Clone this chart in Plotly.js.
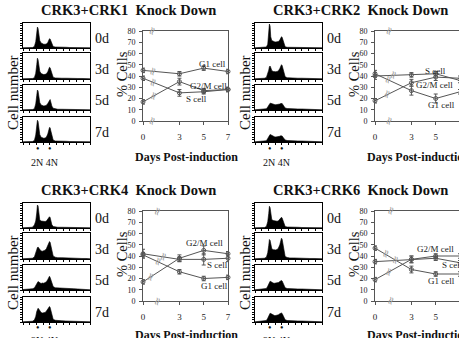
<!DOCTYPE html>
<html>
<head>
<meta charset="utf-8">
<script src="https://cdn.plot.ly/plotly-3.0.1.min.js"></script>
<style>
  html, body { margin: 0; padding: 0; background: #ffffff; }
  #chart { width: 459px; height: 338px; }
</style>
</head>
<body>
<div id="chart"></div>
<script>
// ---- time course: % of cells in each cycle phase ----
const days = [0, 3, 5, 7];
const panelTitles = ['CRK3+CRK1\u00a0\u00a0Knock Down', 'CRK3+CRK2\u00a0\u00a0Knock Down',
                     'CRK3+CRK4\u00a0\u00a0Knock Down', 'CRK3+CRK6\u00a0\u00a0Knock Down'];
const dayLabels = ['0d', '3d', '5d', '7d'];
const yTicks = [0, 10, 20, 30, 40, 50, 60, 70, 80];

const g1Crk1 = [45, 42, 47, 44];
const g2mCrk1 = [17, 35, 27, 28];
const sCrk1 = [38, 25, 26, 28];
const g1ErrCrk1 = [2, 2, 2, 2];
const g2mErrCrk1 = [2, 3, 2, 2];
const sErrCrk1 = [2, 3, 2, 2];

const g1Crk2 = [42, 27, 20, 26];
const g2mCrk2 = [18, 34, 39, 38];
const sCrk2 = [40, 41, 42, 36];
const g1ErrCrk2 = [3, 4, 4, 2];
const g2mErrCrk2 = [2, 3, 3, 2];
const sErrCrk2 = [3, 2, 2, 2];

const g1Crk4 = [41, 26, 20, 21];
const g2mCrk4 = [17, 38, 45, 42];
const sCrk4 = [42, 37, 37, 38];
const g1ErrCrk4 = [2, 2, 2, 2];
const g2mErrCrk4 = [2, 3, 4, 2];
const sErrCrk4 = [4, 2, 5, 3];

const g1Crk6 = [47, 28, 24, 24];
const g2mCrk6 = [19, 37, 40, 40];
const sCrk6 = [35, 37, 38, 34];
const g1ErrCrk6 = [2, 3, 2, 2];
const g2mErrCrk6 = [2, 3, 2, 2];
const sErrCrk6 = [2, 3, 2, 2];

// ---- DNA content histograms (relative cell counts per channel) ----
const channels = [0, 8, 14, 17, 19, 20.5, 21.5, 22.5, 23.5, 25, 27, 29, 31, 33, 35, 37,
                  38.5, 39.5, 40.5, 41.5, 43, 45, 48, 52, 58, 64, 70, 76, 82, 88, 94, 100];

const crk1Day0 = [1,1,2,6,25,60,84,78,50,30,20,17,15,15,16,22,32,37,36,28,14,6,4,3,3,3,2,2,2,2,1,1];
const crk1Day3 = [1,1,2,5,22,55,80,74,48,30,21,18,17,18,20,28,38,45,43,33,17,7,4,3,3,3,2,2,2,2,1,1];
const crk1Day5 = [1,1,2,5,24,58,80,76,50,30,20,17,16,17,19,26,36,43,42,32,16,7,4,3,3,3,2,2,2,2,1,1];
const crk1Day7 = [1,1,2,6,28,64,87,82,52,30,19,16,15,16,20,32,48,58,57,45,22,8,4,3,3,3,2,2,2,2,1,1];

const crk2Day0 = [1,1,2,4,15,50,96,88,45,30,26,25,24,24,26,32,40,45,43,33,14,5,3,3,3,2,2,2,2,2,1,1];
const crk2Day3 = [1,1,3,6,18,34,47,50,44,33,29,28,28,29,32,40,50,55,52,42,22,9,5,4,4,3,3,3,2,2,2,1];
const crk2Day5 = [1,2,3,5,12,20,25,27,27,25,23,22,21,21,22,24,26,27,26,22,14,8,6,5,5,4,4,3,3,2,2,1];
const crk2Day7 = [1,2,3,5,14,24,28,30,29,26,23,21,20,20,21,23,25,26,24,20,13,8,6,5,5,4,4,3,3,2,2,1];

const crk4Day0 = [1,1,3,12,28,60,92,88,48,32,28,27,26,26,28,34,42,45,42,32,14,6,4,3,3,3,2,2,2,2,1,1];
const crk4Day3 = [1,2,3,8,20,36,44,46,42,35,31,30,31,34,40,52,62,67,64,50,28,12,7,5,5,4,4,3,3,2,2,1];
const crk4Day5 = [2,3,5,8,18,28,33,34,32,30,26,28,27,30,33,42,50,55,50,40,25,14,9,8,7,6,6,5,4,3,2,1];
const crk4Day7 = [1,2,3,8,22,42,52,55,52,44,38,36,36,38,44,52,58,62,58,46,26,11,7,5,5,4,4,3,3,2,2,1];

const crk6Day0 = [1,1,2,6,25,58,87,82,50,34,30,28,27,27,29,34,40,43,40,32,15,6,4,3,3,3,2,2,2,2,1,1];
const crk6Day3 = [1,1,3,7,24,52,75,72,50,40,36,35,35,37,42,55,72,80,76,58,26,10,6,4,4,3,3,3,2,2,2,1];
const crk6Day5 = [1,2,3,6,15,27,33,35,34,31,28,27,27,28,30,34,37,38,36,30,18,9,6,5,5,4,4,3,3,2,2,1];
const crk6Day7 = [1,2,3,6,15,27,33,35,34,31,27,26,26,27,29,33,35,36,34,28,17,9,6,5,5,4,4,3,3,2,2,1];

const histSets = [
  [crk1Day0, crk1Day3, crk1Day5, crk1Day7],
  [crk2Day0, crk2Day3, crk2Day5, crk2Day7],
  [crk4Day0, crk4Day3, crk4Day5, crk4Day7],
  [crk6Day0, crk6Day3, crk6Day5, crk6Day7]
];

const seriesSets = [
  { g1: g1Crk1, g2m: g2mCrk1, s: sCrk1, g1e: g1ErrCrk1, g2me: g2mErrCrk1, se: sErrCrk1 },
  { g1: g1Crk2, g2m: g2mCrk2, s: sCrk2, g1e: g1ErrCrk2, g2me: g2mErrCrk2, se: sErrCrk2 },
  { g1: g1Crk4, g2m: g2mCrk4, s: sCrk4, g1e: g1ErrCrk4, g2me: g2mErrCrk4, se: sErrCrk4 },
  { g1: g1Crk6, g2m: g2mCrk6, s: sCrk6, g1e: g1ErrCrk6, g2me: g2mErrCrk6, se: sErrCrk6 }
];

// where the axis-break glyphs sit along the 0d -> 3d segment (in days)
const frameBreak = [0.7, 1.1, 1.15, 1.24];
const seriesBreak = [
  { g1: 0.8, g2m: 0.9, s: 0.8 },
  { g1: 1.1, g2m: 1.0, s: 1.5 },
  { g1: 1.25, g2m: 0.65, s: 1.7 },
  { g1: 0.83, g2m: 1.1, s: 1.65 }
];

// phase labels: [text, day, %]
const phaseLabels = [
  [['G1 cell', 5.7, 51], ['G2/M cell', 5.4, 31.5], ['S cell', 4.4, 19.5]],
  [['S cell', 5.0, 44.5], ['G2/M cell', 4.9, 32], ['G1 cell', 5.5, 14]],
  [['G2/M cell', 5.1, 51.5], ['S cell', 6.1, 32], ['G1 cell', 5.9, 13.5]],
  [['G2/M cell', 5.0, 46.5], ['S cell', 6.4, 32], ['G1 cell', 5.5, 18]]
];

// ---- page geometry ----
const W = 459, H = 338;
const fx = v => Math.min(1, Math.max(0, v / W));
const fy = v => Math.min(1, Math.max(0, 1 - v / H));
const offsets = [[0, 0], [232, 0], [0, 180], [232, 180]];
const footLift = [0, 0, 2, 2];
const boxRows = [[23, 48], [53, 79], [85, 110], [117, 142]];
const boxX = [23, 90];
const plotX = [143, 228];
const plotY = [31, 121];

const SERIF = 'Liberation Serif, Times New Roman, serif';
const INK = '#555555';
const BREAK = '#9a9a9a';
const traces = [];
const annotations = [];
const layout = {
  width: W, height: H,
  margin: { l: 0, r: 0, t: 0, b: 0 },
  paper_bgcolor: '#ffffff', plot_bgcolor: '#ffffff',
  showlegend: false,
  font: { family: SERIF, color: '#111' },
  annotations: annotations
};

let axisCount = 0;
function newAxes(xDom, yDom, xOpt, yOpt) {
  axisCount += 1;
  const sfx = axisCount === 1 ? '' : String(axisCount);
  layout['xaxis' + sfx] = Object.assign({ domain: xDom, anchor: 'y' + sfx, fixedrange: true,
    showgrid: false, zeroline: false }, xOpt);
  layout['yaxis' + sfx] = Object.assign({ domain: yDom, anchor: 'x' + sfx, fixedrange: true,
    showgrid: false, zeroline: false }, yOpt);
  return { x: 'x' + sfx, y: 'y' + sfx };
}

function paperNote(text, x, y, size, extra) {
  annotations.push(Object.assign({ text: text, x: fx(x), y: 1 - y / H, xref: 'paper', yref: 'paper',
    showarrow: false, font: { family: SERIF, size: size, color: '#111' },
    xanchor: 'center', yanchor: 'middle' }, extra || {}));
}

function lerpAt(vals, d) {
  return vals[0] + (vals[1] - vals[0]) * d / (days[1] - days[0]);
}

function breakGlyph(x, y, ax) {
  annotations.push({ text: '\u2248', x: x, y: y, xref: ax.x, yref: ax.y,
    showarrow: false, textangle: -70, font: { family: 'DejaVu Sans', size: 11, color: BREAK } });
}

for (let p = 0; p < 4; p++) {
  const [dx, dy] = offsets[p];

  // histograms
  for (let r = 0; r < 4; r++) {
    const ax = newAxes(
      [fx(boxX[0] + dx), fx(boxX[1] + dx)],
      [fy(boxRows[r][1] + dy), fy(boxRows[r][0] + dy)],
      { range: [0, 100], showline: true, mirror: true, linecolor: '#000', linewidth: 1.4,
        ticks: 'outside', ticklen: 2, tickwidth: 1, tickcolor: '#000', dtick: 10, showticklabels: false },
      { range: [0, 100], showline: true, mirror: true, linecolor: '#000', linewidth: 1.4,
        ticks: 'outside', ticklen: 2, tickwidth: 1, tickcolor: '#000', dtick: 10, showticklabels: false });
    traces.push({ type: 'scatter', mode: 'lines', x: channels, y: histSets[p][r],
      xaxis: ax.x, yaxis: ax.y, fill: 'tozeroy', fillcolor: '#000',
      line: { color: '#000', width: 0.6 }, hoverinfo: 'skip' });
    paperNote(dayLabels[r], 93 + dx, (boxRows[r][0] + boxRows[r][1]) / 2 + 3 + dy, 14,
      { xanchor: 'left' });
  }

  // time-course plot
  const rightEdge = plotX[1] + dx;
  const clipped = rightEdge > W;
  const xMax = clipped ? 7 * (W - (plotX[0] + dx)) / (plotX[1] - plotX[0]) : 7;
  const ax = newAxes(
    [fx(plotX[0] + dx), fx(Math.min(W, rightEdge))],
    [fy(plotY[1] + dy), fy(plotY[0] + dy)],
    { range: [0, xMax], tickvals: days, ticktext: days.map(String), showline: true, mirror: true,
      linecolor: INK, linewidth: 1, ticks: 'outside', ticklen: 3, tickcolor: INK,
      tickfont: { family: SERIF, size: 9, color: '#222' }, ticklabelstandoff: 4 },
    { range: [0, 80], tickvals: yTicks, showline: true, mirror: !clipped,
      linecolor: INK, linewidth: 1, ticks: 'outside', ticklen: 3, tickcolor: INK,
      tickfont: { family: SERIF, size: 8, color: '#222' }, ticklabelstandoff: 2 });

  const set = seriesSets[p];
  [['g1', 'g1e'], ['g2m', 'g2me'], ['s', 'se']].forEach(([k, ek]) => {
    traces.push({ type: 'scatter', mode: 'lines+markers', x: days, y: set[k],
      xaxis: ax.x, yaxis: ax.y, cliponaxis: false,
      line: { color: INK, width: 1 },
      marker: { symbol: 'circle-open', size: 4, color: INK, line: { width: 1, color: INK } },
      error_y: { type: 'data', array: set[ek], visible: true, color: INK, thickness: 1, width: 2 },
      hoverinfo: 'skip' });
    const bd = seriesBreak[p][k];
    breakGlyph(bd, lerpAt(set[k], bd), ax);
  });

  // breaks on the top and bottom frame lines
  [0, 80].forEach(v => breakGlyph(frameBreak[p], v, ax));

  phaseLabels[p].forEach(([t, d, v]) => annotations.push({ text: t, x: d, y: v, xref: ax.x, yref: ax.y,
    showarrow: false, font: { family: SERIF, size: 9, color: '#222' } }));

  // text around the panel
  const fy0 = dy - footLift[p];
  paperNote('<b>' + panelTitles[p] + '</b>', 128 + dx, 10 + dy, 14.5);
  paperNote('Cell number', 12.5 + dx, 92.5 + dy, 15, { textangle: -90 });
  paperNote('% Cells', 122 + dx, 74 + dy, 14.5, { textangle: -90 });
  paperNote('<b>Days Post-induction</b>', 133 + dx, 157 + fy0, 12, { xanchor: 'left' });
  paperNote('\u2022', 38 + dx, 149 + fy0, 10);
  paperNote('\u2022', 50 + dx, 149 + fy0, 10);
  paperNote('2N 4N', 44 + dx, 162 + fy0, 10);
}

Plotly.newPlot('chart', traces, layout, { displayModeBar: false, staticPlot: true });
</script>
</body>
</html>
